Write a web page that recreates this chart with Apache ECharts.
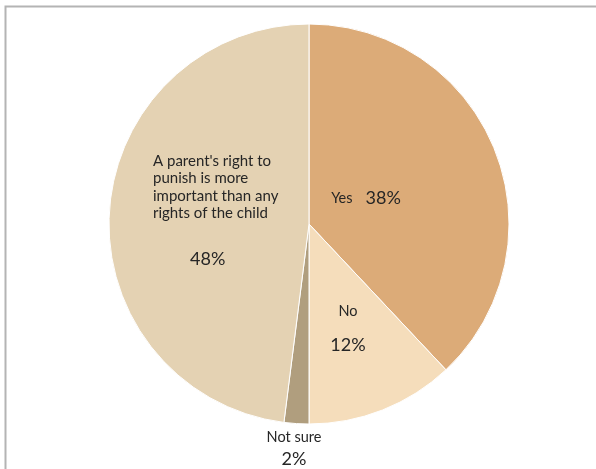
<!DOCTYPE html>
<html>
<head>
<meta charset="utf-8">
<script src="https://cdn.jsdelivr.net/npm/echarts@6/dist/echarts.min.js"></script>
<style>html,body{margin:0;padding:0;background:#fff}#c{width:596px;height:469px}</style>
</head>
<body>
<div id="c"></div>
<script>
var categories = ["Yes", "No", "Not sure", "A parent's right to\npunish is more\nimportant than any\nrights of the child"];
var values = [38, 12, 2, 48];
var percentLabels = ["38%", "12%", "2%", "48%"];
var colors = ["#DCAB78", "#F5DDBB", "#B09E7E", "#E4D2B3"];

var chart = echarts.init(document.getElementById('c'), null, {renderer: 'canvas'});
var FONT = 'Lato, "Open Sans", sans-serif';

function fmt(p) {
  var i = p.dataIndex;
  var name = categories[i], pct = percentLabels[i];
  if (i === 0) return '{n|' + name + '}{s|}{p|' + pct + '}';
  if (i === 3) return '{t|' + name + '}\n{g|}\n{q|' + pct + '}';
  if (i === 2) return '{n|' + name + '}\n{p|' + pct + '}';
  return '{n|' + name + '}\n{g2|}\n{p|' + pct + '}';
}

var labelPos = [
  {x: 366, y: 198, align: 'center', verticalAlign: 'middle'},
  {x: 348, y: 329, align: 'center', verticalAlign: 'middle'},
  {x: 294, y: 449, align: 'center', verticalAlign: 'middle'},
  {x: 153, y: 152, align: 'left', verticalAlign: 'top'}
];

chart.setOption({
  backgroundColor: '#ffffff',
  animation: false,
  graphic: [{
    type: 'rect', silent: true,
    shape: {x: 5.5, y: 6.5, width: 800, height: 800},
    style: {fill: 'none', stroke: '#b4b4b4', lineWidth: 2}
  }],
  series: [{
    type: 'pie',
    center: [309, 224],
    radius: [0, 200],
    startAngle: 90,
    clockwise: true,
    avoidLabelOverlap: false,
    itemStyle: {borderColor: '#ffffff', borderWidth: 1},
    label: {
      show: true,
      position: 'inside',
      formatter: fmt,
      color: '#262626',
      fontFamily: FONT,
      rich: {
        n: {fontSize: 14.5, fontFamily: FONT, color: '#262626', lineHeight: 20},
        s: {width: 13},
        p: {fontSize: 18, fontFamily: FONT, color: '#262626', lineHeight: 24},
        t: {fontSize: 15, fontFamily: FONT, color: '#262626', lineHeight: 17.5, align: 'left'},
        g: {height: 26, lineHeight: 26},
        g2: {height: 12, lineHeight: 12},
        q: {fontSize: 18, fontFamily: FONT, color: '#262626', lineHeight: 22, padding: [0, 0, 0, 37]}
      }
    },
    labelLine: {show: false},
    labelLayout: function (params) {
      return labelPos[params.dataIndex];
    },
    data: values.map(function (v, i) {
      return {name: categories[i], value: v, itemStyle: {color: colors[i]}};
    })
  }]
});
</script>
</body>
</html>
